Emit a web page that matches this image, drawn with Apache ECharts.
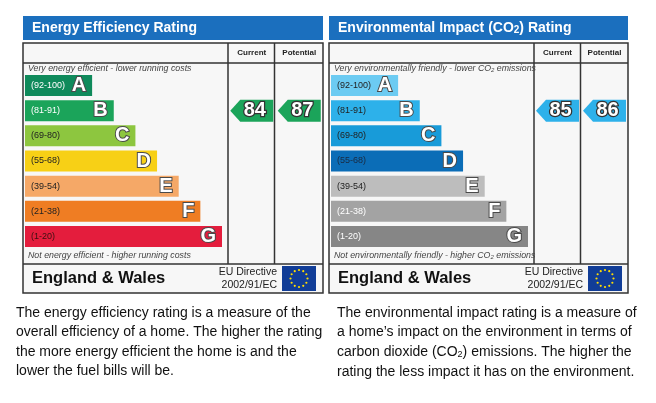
<!DOCTYPE html>
<html><head><meta charset="utf-8">
<script src="https://cdn.jsdelivr.net/npm/echarts@6/dist/echarts.min.js"></script>
<style>html,body{margin:0;padding:0;background:#fff}#c{width:656px;height:403px}</style>
</head><body><div id="c"></div>
<script>
// ---- data ----
const bands = ['A','B','C','D','E','F','G'];
const rangeLabels = ['(92-100)','(81-91)','(69-80)','(55-68)','(39-54)','(21-38)','(1-20)'];
const bandLow = [92,81,69,55,39,21,1];
const barLength = [31,41,51,61,71,81,91];
const columns = ['Current','Potential'];
const eeColors = ['#0f8a5b','#1ba45a','#8dc63f','#f7d016','#f5a867','#ef7d23','#e41d3d'];
const eeRangeText = ['#ffffff','#ffffff','#222222','#222222','#222222','#222222','#3a1010'];
const eiColors = ['#6ccbf2','#2db1ea','#189bd9','#0b6db7','#bdbdbd','#a3a3a3','#868686'];
const eiRangeText = ['#222222','#222222','#222222','#1a2a40','#222222','#ffffff','#ffffff'];
const eeRatings = [84, 87];
const eiRatings = [85, 86];
const eeTitle = 'Energy Efficiency Rating';
const eiTitle = 'Environmental Impact (CO{s|2}) Rating';
const eeTop = 'Very energy efficient - lower running costs';
const eeBottom = 'Not energy efficient - higher running costs';
const eiTop = 'Very environmentally friendly - lower CO{s|2} emissions';
const eiBottom = 'Not environmentally friendly - higher CO{s|2} emissions';
const eeText = ['The energy efficiency rating is a measure of the','overall efficiency of a home. The higher the rating','the more energy efficient the home is and the','lower the fuel bills will be.'];
const eiText = ['The environmental impact rating is a measure of','a home\u2019s impact on the environment in terms of','carbon dioxide (CO{s|2}) emissions. The higher the','rating the less impact it has on the environment.'];

const FONT = '"Liberation Sans", Arial, Helvetica, sans-serif';
function bandIndex(v){ for (let i=0;i<bandLow.length;i++){ if (v>=bandLow[i]) return i; } return bandLow.length-1; }

const panels = [
  {x0:23, w:300, colors:eeColors, rangeText:eeRangeText, ratings:eeRatings, title:eeTitle, top:eeTop, bottom:eeBottom, text:eeText, textX:16, lineY:[313,332,352,371]},
  {x0:329, w:299, colors:eiColors, rangeText:eiRangeText, ratings:eiRatings, title:eiTitle, top:eiTop, bottom:eiBottom, text:eiText, textX:337, lineY:[313,332.5,352.5,372.5]}
];

const grid=[], xAxis=[], yAxis=[], series=[], graphic=[];
const GT=73, GH=176;
panels.forEach((p,pi)=>{
  const x0=p.x0;
  // frames
  graphic.push({type:'rect', shape:{x:x0,y:16,width:p.w,height:24}, style:{fill:'#1b6fbe'}, z:0});
  graphic.push({type:'rect', shape:{x:x0,y:43,width:p.w,height:250}, style:{fill:'#f7f7f7',stroke:'#333',lineWidth:1.5}, z:0});
  graphic.push({type:'line', shape:{x1:x0,y1:63,x2:x0+p.w,y2:63}, style:{stroke:'#333',lineWidth:1.5}, z:1});
  graphic.push({type:'line', shape:{x1:x0,y1:264,x2:x0+p.w,y2:264}, style:{stroke:'#333',lineWidth:1.5}, z:1});
  graphic.push({type:'line', shape:{x1:x0+205,y1:43,x2:x0+205,y2:264}, style:{stroke:'#333',lineWidth:1.5}, z:1});
  graphic.push({type:'line', shape:{x1:x0+251.5,y1:43,x2:x0+251.5,y2:264}, style:{stroke:'#333',lineWidth:1.5}, z:1});
  graphic.push({type:'text', x:x0+9, y:28, style:{text:p.title, fill:'#fff', font:'bold 14px '+FONT, textVerticalAlign:'middle', rich:{s:{fontSize:10,fontWeight:'bold',fill:'#fff',fontFamily:FONT,verticalAlign:'bottom'}}}, z:2});
  graphic.push({type:'text', x:x0+5, y:69, style:{text:p.top, fill:'#444', font:'italic 8.8px '+FONT, textVerticalAlign:'middle', rich:{s:{fontSize:6,fill:'#444',fontStyle:'italic',fontFamily:FONT,verticalAlign:'bottom'}}}, z:2});
  graphic.push({type:'text', x:x0+5, y:256, style:{text:p.bottom, fill:'#444', font:'italic 8.8px '+FONT, textVerticalAlign:'middle', rich:{s:{fontSize:6,fill:'#444',fontStyle:'italic',fontFamily:FONT,verticalAlign:'bottom'}}}, z:2});
  graphic.push({type:'text', x:x0+9, y:278.5, style:{text:'England & Wales', fill:'#111', font:'bold 16.5px '+FONT, textVerticalAlign:'middle'}, z:2});
  graphic.push({type:'text', x:x0+254, y:272, style:{text:'EU Directive', fill:'#222', font:'10.5px '+FONT, textAlign:'right', textVerticalAlign:'middle'}, z:2});
  graphic.push({type:'text', x:x0+254, y:285, style:{text:'2002/91/EC', fill:'#222', font:'10.5px '+FONT, textAlign:'right', textVerticalAlign:'middle'}, z:2});
  const fx=x0+259, fy=266;
  graphic.push({type:'rect', shape:{x:fx,y:fy,width:34,height:25}, style:{fill:'#113d97'}, z:2});
  for(let k=0;k<12;k++){
    const a=k*Math.PI/6;
    graphic.push({type:'circle', shape:{cx:fx+17+8.5*Math.cos(a), cy:fy+12.5+8.5*Math.sin(a), r:1.1}, style:{fill:'#ffdd00'}, z:3});
  }
  // paragraph
  p.text.forEach((t,li)=>{
    graphic.push({type:'text', x:p.textX, y:p.lineY[li], style:{text:t, fill:'#111', font:'14px '+FONT, textVerticalAlign:'middle', rich:{s:{fontSize:9,fill:'#111',fontFamily:FONT,verticalAlign:'bottom'}}}, z:2});
  });

  // bars grid
  const gb=grid.length;
  grid.push({left:x0+2, top:GT, width:197, height:GH});
  xAxis.push({gridIndex:gb, type:'value', min:0, max:barLength[barLength.length-1], show:false});
  yAxis.push({gridIndex:gb, type:'category', data:bands, inverse:true, show:false});
  series.push({type:'bar', xAxisIndex:gb, yAxisIndex:gb, barWidth:21, silent:true, z:3,
    data:barLength.map((v,i)=>({value:v, itemStyle:{color:p.colors[i]}})),
    label:{show:true, position:'insideRight', distance:6, formatter:q=>bands[q.dataIndex],
      fontFamily:FONT, fontSize:20, fontWeight:'bold', color:'#fff', textBorderColor:'#4a4a4a', textBorderWidth:2}});
  series.push({type:'bar', xAxisIndex:gb, yAxisIndex:gb, barWidth:21, barGap:'-100%', silent:true, z:4,
    data:barLength.map((v,i)=>({value:v, itemStyle:{color:'rgba(0,0,0,0)'}, label:{color:p.rangeText[i]}})),
    label:{show:true, position:'insideLeft', distance:6, formatter:q=>rangeLabels[q.dataIndex],
      fontFamily:FONT, fontSize:9}});
  // columns grid
  const gc=grid.length;
  grid.push({left:x0+205, top:GT, width:p.w-205, height:GH});
  xAxis.push({gridIndex:gc, type:'category', data:columns, position:'top', axisLine:{show:false}, axisTick:{show:false},
    axisLabel:{margin:16, fontFamily:FONT, fontSize:8, fontWeight:'bold', color:'#222'}});
  yAxis.push({gridIndex:gc, type:'category', data:bands, inverse:true, show:false});
  series.push({type:'scatter', xAxisIndex:gc, yAxisIndex:gc, silent:true, z:5,
    symbol:'path://M0,11L10,0L43,0L43,22L10,22Z', symbolSize:[43,22], symbolKeepAspect:false,
    itemStyle:{opacity:1},
    data:p.ratings.map((v,k)=>{const b=bandIndex(v); return {value:[k,b], rating:v, itemStyle:{color:p.colors[b], opacity:1}};}),
    label:{show:true, position:'inside', offset:[3,0], formatter:q=>String(q.data.rating),
      fontFamily:FONT, fontSize:20, fontWeight:'bold', color:'#fff', textBorderColor:'#333', textBorderWidth:2.5}});
});

const chart = echarts.init(document.getElementById('c'), null, {renderer:'canvas'});
chart.setOption({animation:false, backgroundColor:'#fff', grid, xAxis, yAxis, series, graphic});
</script></body></html>
